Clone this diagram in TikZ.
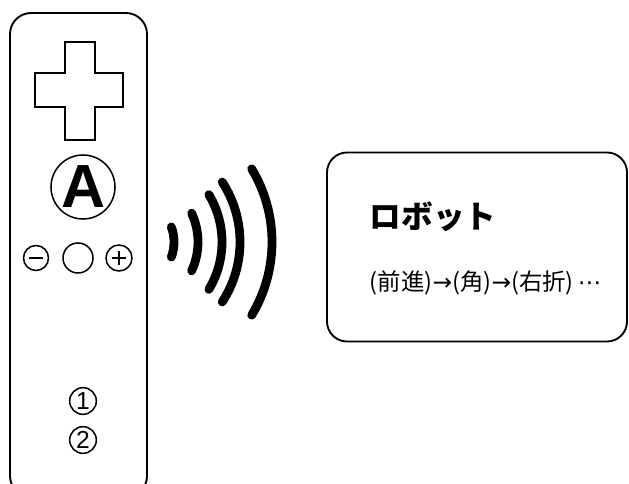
\documentclass[tikz,border=0pt]{standalone}
\usepackage{fontspec}
\setmainfont{Liberation Sans}
\newfontfamily\jpfont{Noto Sans CJK JP}
\newfontfamily\symfont{DejaVu Sans}

\tikzset{
  button/.style={draw, circle, line width=1.3pt, inner sep=0pt},
  wave/.style={line width=7.5pt, line cap=round},
}

\begin{document}
\begin{tikzpicture}[x=0.03cm, y=-0.03cm, line width=1.6pt]
            \useasboundingbox (0,0) rectangle (629,483);

            % controller body and cross key
            \draw[rounded corners=18] (10,13) rectangle (147,497);
            \draw (65,42) -- (95,42) -- (95,73) -- (123,73) -- (123,107) -- (95,107)
                  -- (95,140) -- (65,140) -- (65,107) -- (35,107) -- (35,73) -- (65,73) -- cycle;

            % buttons
            \node[button, minimum size=1.92cm] (A) at (83,187) {\bfseries\fontsize{52}{52}\selectfont A};
            \node[button, minimum size=0.75cm] (minus) at (36,258) {};
            \node[button, minimum size=0.9cm] (home) at (78,258) {};
            \node[button, minimum size=0.78cm] (plus) at (119,258) {};
            \node[button, minimum size=0.8cm] (one) at (83,401) {\fontsize{21}{21}\selectfont 1};
            \node[button, minimum size=0.8cm] (two) at (83,440) {\fontsize{21}{21}\selectfont 2};

            \draw[line width=1.3pt] ([xshift=-0.2cm]minus.center) -- ([xshift=0.2cm]minus.center);
            \draw[line width=1.3pt] ([xshift=-0.2cm]plus.center) -- ([xshift=0.2cm]plus.center);
            \draw[line width=1.3pt] ([yshift=-0.2cm]plus.center) -- ([yshift=0.2cm]plus.center);

            % signal waves
            \coordinate (src) at (130,242);
            \draw[wave] (src) ++(-20:44) arc (-20:20:44);
            \draw[wave] (src) ++(-25:68) arc (-25:25:68);
            \draw[wave] (src) ++(-31:92) arc (-31:31:92);
            \draw[wave] (src) ++(-33:110) arc (-33:33:110);
            \draw[wave] (src) ++(-31:142) arc (-31:31:142);

            % robot panel
            \node[draw, rounded corners=0.6cm, minimum width=9cm, minimum height=5.67cm] (robot) at (477,247) {};
            \node[anchor=west, inner sep=0pt] (title) at (369,217) {\jpfont\bfseries\fontsize{27}{27}\selectfont ロボット};
            \node[anchor=west, inner sep=0pt] (steps) at (369,283)
                {\jpfont\fontsize{20}{20}\selectfont (前進){\symfont →}(角){\symfont →}(右折)\,{\symfont ⋯}};
        \end{tikzpicture}
\end{document}
